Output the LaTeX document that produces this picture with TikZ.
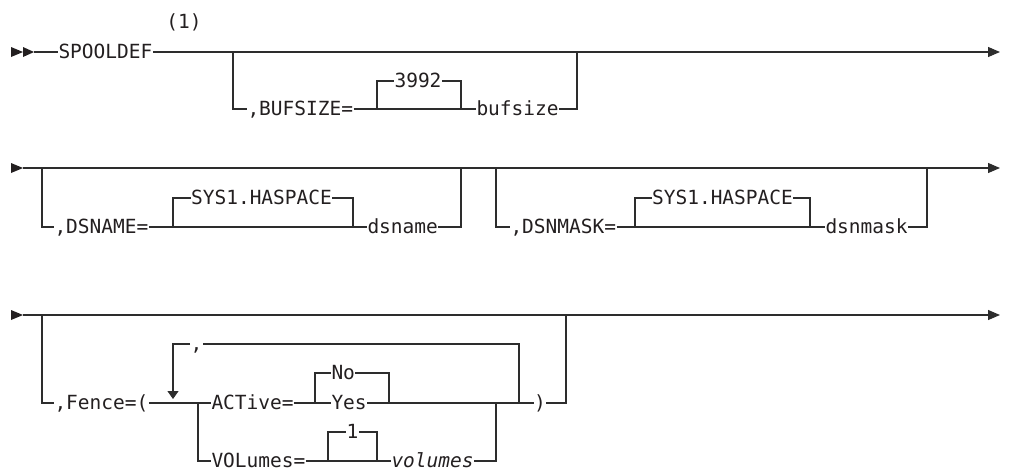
\documentclass[tikz,border=0pt]{standalone}
\usepackage{fontspec}
\usetikzlibrary{arrows.meta}
\newfontfamily\rrfont{DejaVu Sans Mono}
\definecolor{ink}{RGB}{35,31,32}
\definecolor{wire}{RGB}{45,45,45}
\tikzset{
  rr/.style={line width=1.1pt, draw=wire},
  rrend/.style={rr, -{Triangle[length=12pt,width=10pt]}},
  lbl/.style={font=\rrfont\fontsize{19.5}{22}\selectfont, inner xsep=0.3pt, inner ysep=0pt,
              text height=13.4pt, text depth=0pt, anchor=west, text=ink},
  clbl/.style={lbl, anchor=center},
  tip/.style={fill=ink}
}
\begin{document}
\begin{tikzpicture}[x=1pt,y=-1pt]
\useasboundingbox (0,0) rectangle (1018,469);

% ---------------- Row 1 ----------------
\fill[tip] (11,47) -- (23,52) -- (11,57) -- cycle;
\fill[tip] (23,47) -- (34,52) -- (23,57) -- cycle;
\coordinate (r1s) at (34,52);
\node[lbl] (spool) at (58,52) {SPOOLDEF};
\node[clbl] (note) at (184,22) {(1)};
\coordinate (r1e) at (1000,52);
\coordinate (r1a) at (233,52);
\node[lbl] (buf) at (247,109) {,BUFSIZE=};
\coordinate (b1l) at (377,109);
\coordinate (b1lt) at (377,81);
\node[clbl] (d3992) at (418,81) {3992};
\coordinate (b1rt) at (461,81);
\coordinate (b1r) at (461,109);
\node[lbl] (bufsize) at (476,109) {bufsize};
\coordinate (r1k) at (577,52);

\draw[rr] (r1s) -- (spool.west);
\draw[rrend] (spool.east) -- (r1e);
\draw[rr] (r1a) |- (buf.west);
\draw[rr] (buf.east) -- (bufsize.west);
\draw[rr] (b1l) -- (b1lt) -- (d3992.west);
\draw[rr] (d3992.east) -- (b1rt) -- (b1r);
\draw[rr] (bufsize.east) -| (r1k);

% ---------------- Row 2 ----------------
\fill[tip] (11,163) -- (23,168) -- (11,173) -- cycle;
\coordinate (r2s) at (23,168);
\coordinate (r2e) at (1000,168);
\draw[rrend] (r2s) -- (r2e);

\coordinate (r2a) at (42,168);
\node[lbl] (dsn) at (54,227) {,DSNAME=};
\coordinate (b2l) at (173,227);
\coordinate (b2lt) at (173,198);
\node[clbl] (sys1) at (261.5,198) {SYS1.HASPACE};
\coordinate (b2rt) at (353,198);
\coordinate (b2r) at (353,227);
\node[lbl] (dsname) at (367,227) {dsname};
\coordinate (r2k) at (461,168);

\draw[rr] (r2a) |- (dsn.west);
\draw[rr] (dsn.east) -- (dsname.west);
\draw[rr] (b2l) -- (b2lt) -- (sys1.west);
\draw[rr] (sys1.east) -- (b2rt) -- (b2r);
\draw[rr] (dsname.east) -| (r2k);

\coordinate (r2b) at (496,168);
\node[lbl] (dsm) at (510,227) {,DSNMASK=};
\coordinate (b3l) at (635,227);
\coordinate (b3lt) at (635,198);
\node[clbl] (sys2) at (722.5,198) {SYS1.HASPACE};
\coordinate (b3rt) at (810,198);
\coordinate (b3r) at (810,227);
\node[lbl] (dsnmask) at (825,227) {dsnmask};
\coordinate (r2m) at (927,168);

\draw[rr] (r2b) |- (dsm.west);
\draw[rr] (dsm.east) -- (dsnmask.west);
\draw[rr] (b3l) -- (b3lt) -- (sys2.west);
\draw[rr] (sys2.east) -- (b3rt) -- (b3r);
\draw[rr] (dsnmask.east) -| (r2m);

% ---------------- Row 3 ----------------
\fill[tip] (11,310) -- (23,315) -- (11,320) -- cycle;
\coordinate (r3s) at (23,315);
\coordinate (r3e) at (1000,315);
\draw[rrend] (r3s) -- (r3e);

\coordinate (r3a) at (42,315);
\node[lbl] (fence) at (54,403) {,Fence=(};
\coordinate (ch) at (198,403);
\node[lbl] (act) at (211,403) {ACTive=};
\coordinate (nyl) at (315,403);
\coordinate (nylt) at (315,373);
\node[lbl] (no) at (331,373) {No};
\node[lbl] (yes) at (331,403) {Yes};
\coordinate (nyrt) at (389,373);
\coordinate (nyr) at (389,403);
\node[clbl] (rp) at (540,403) {)};
\coordinate (r3k) at (566,315);

\draw[rr] (r3a) |- (fence.west);
\draw[rr] (fence.east) -- (act.west);
\draw[rr] (act.east) -- (yes.west);
\draw[rr] (yes.east) -- (rp.west);
\draw[rr] (rp.east) -| (r3k);
\draw[rr] (nyl) -- (nylt) -- (no.west);
\draw[rr] (no.east) -- (nyrt) -- (nyr);

% VOLumes branch
\node[lbl] (vol) at (211,461) {VOLumes=};
\coordinate (b4l) at (328,461);
\coordinate (b4lt) at (328,432);
\node[clbl] (one) at (352.5,432) {1};
\coordinate (b4rt) at (377,432);
\coordinate (b4r) at (377,461);
\node[lbl, font=\rrfont\itshape\fontsize{19.5}{22}\selectfont] (volumes) at (391,461) {volumes};
\coordinate (vj) at (496,403);

\draw[rr] (ch) |- (vol.west);
\draw[rr] (vol.east) -- (volumes.west);
\draw[rr] (b4l) -- (b4lt) -- (one.west);
\draw[rr] (one.east) -- (b4rt) -- (b4r);
\draw[rr] (volumes.east) -| (vj);

% repeat loop
\coordinate (lpr) at (519,403);
\coordinate (lprt) at (519,344);
\node[clbl] (sep) at (196.5,344) {,};
\coordinate (lplt) at (173,344);
\coordinate (lpe) at (173,399);
\draw[rr] (lpr) -- (lprt) -- (sep.east);
\draw[rr, -{Triangle[length=8pt,width=11pt]}] (sep.west) -- (lplt) -- (lpe);
\end{tikzpicture}
\end{document}
